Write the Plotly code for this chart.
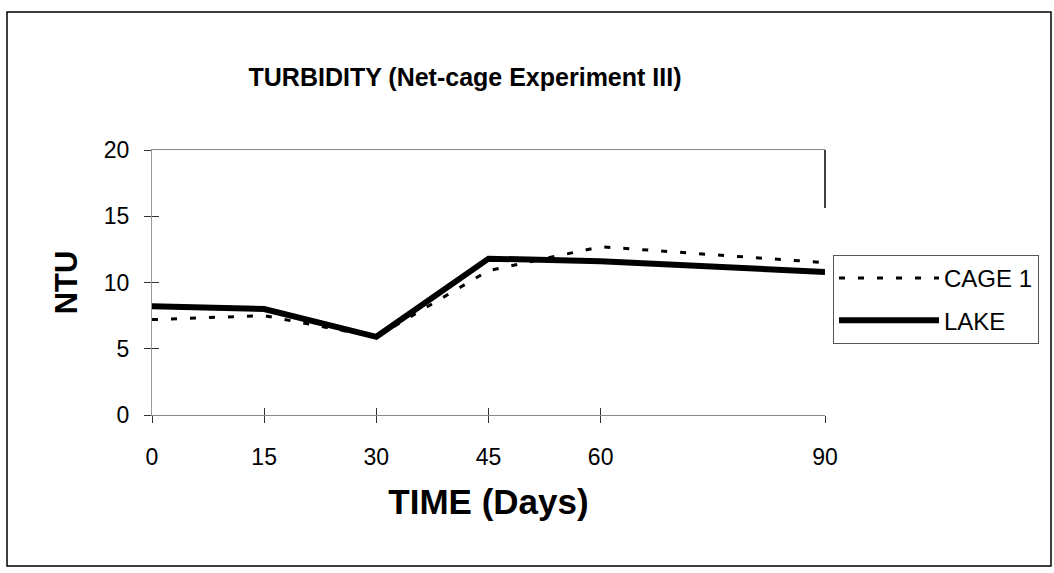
"""
Turbidity over time in net-cage experiment III, cage vs lake.
"""

import plotly.graph_objects as go

days = [0, 15, 30, 45, 60, 90]
cage_1 = [7.2, 7.5, 5.9, 10.9, 12.7, 11.5]
lake = [8.2, 8.0, 5.9, 11.8, 11.6, 10.8]
y_ticks = [0, 5, 10, 15, 20]

FONT = "Arial, Liberation Sans, sans-serif"

# plot area in page pixels
LEFT, RIGHT, TOP, BOTTOM = 152, 825, 150, 415
W, H = 1054, 573


def px_x(p):
    return (p - LEFT) / (RIGHT - LEFT)


def px_y(p):
    return (BOTTOM - p) / (BOTTOM - TOP)


def main():
    fig = go.Figure()
    fig.add_trace(
        go.Scatter(
            x=days, y=cage_1, name="CAGE 1", mode="lines", legendgroup="a",
            line=dict(color="black", width=3, dash="6px,13px"),
        )
    )
    fig.add_trace(
        go.Scatter(
            x=days, y=lake, name="LAKE", mode="lines", legendgroup="b",
            line=dict(color="black", width=6),
        )
    )
    # empty trace so the overlay axes (inner half of the tick crosses) get drawn
    fig.add_trace(
        go.Scatter(x=[], y=[], xaxis="x2", yaxis="y2", showlegend=False,
                   hoverinfo="skip")
    )

    axis_common = dict(
        showgrid=False, zeroline=False,
        ticks="outside", ticklen=7, tickcolor="#333", tickwidth=1,
        tickfont=dict(size=23, family=FONT),
    )

    fig.update_layout(
        width=W,
        height=H,
        margin=dict(l=LEFT, r=W - RIGHT, t=TOP, b=H - BOTTOM),
        paper_bgcolor="white",
        plot_bgcolor="white",
        font=dict(family=FONT, size=23, color="black"),
        title=dict(
            text="<b>TURBIDITY (Net-cage Experiment III)</b>",
            x=465 / W, xanchor="center",
            y=1 - 77 / H, yanchor="middle",
            font=dict(size=25, family=FONT),
        ),
        showlegend=True,
        legend=dict(
            x=px_x(833), xanchor="left", y=px_y(255), yanchor="top",
            bordercolor="#555", borderwidth=1,
            itemwidth=100, tracegroupgap=8,
            font=dict(size=24, family=FONT),
        ),
        xaxis=dict(
            range=[0, 90],
            tickvals=days,
            ticktext=[str(d) for d in days],
            showline=True, linecolor="#888", linewidth=1, mirror=True,
            ticklabelstandoff=14,
            title=dict(text="<b>TIME (Days)</b>", font=dict(size=35), standoff=20),
            **axis_common,
        ),
        yaxis=dict(
            range=[0, 20],
            tickvals=y_ticks,
            showline=True, linecolor="#999", linewidth=1,
            ticklabelstandoff=10,
            title=dict(text="<b>NTU</b>", font=dict(size=31), standoff=16),
            **axis_common,
        ),
        xaxis2=dict(
            overlaying="x", anchor="y2", range=[0, 90], tickvals=days,
            showticklabels=False, showgrid=False, zeroline=False,
            ticks="inside", ticklen=7, tickcolor="#333", side="bottom",
        ),
        yaxis2=dict(
            overlaying="y", anchor="x2", range=[0, 20], tickvals=y_ticks,
            showticklabels=False, showgrid=False, zeroline=False,
            ticks="inside", ticklen=7, tickcolor="#333", side="left",
        ),
        shapes=[
            # frame round the whole chart
            dict(
                type="rect", xref="paper", yref="paper",
                x0=px_x(7), x1=px_x(1051), y0=px_y(566), y1=px_y(12),
                line=dict(color="black", width=1.5),
            ),
            # visible piece of the plot-area right edge
            dict(
                type="line", xref="paper", yref="paper",
                x0=1, x1=1, y0=px_y(208), y1=1,
                line=dict(color="black", width=1.5),
            ),
        ],
    )
    fig.write_html(
        "out.html",
        config={"displayModeBar": False},
        post_script="document.body.style.margin='0';",
    )


if __name__ == "__main__":
    main()
